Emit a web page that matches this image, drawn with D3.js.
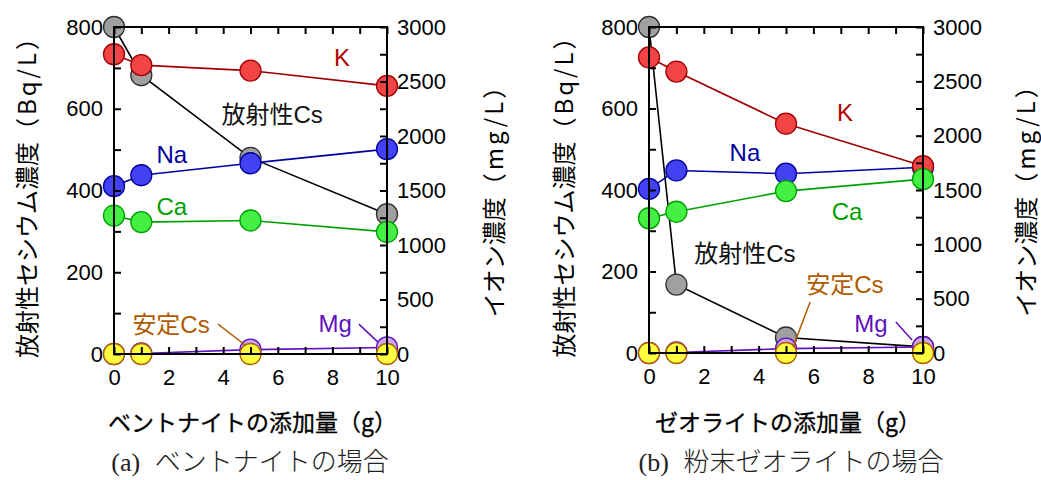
<!DOCTYPE html>
<html>
<head>
<meta charset="utf-8">
<script src="https://cdn.jsdelivr.net/npm/d3@7"></script>
<style>
  html, body { margin: 0; padding: 0; background: #fff; }
  svg { display: block; }
  text { font-family: "Liberation Sans", "Noto Sans CJK JP", sans-serif; }
</style>
</head>
<body>
<svg id="chart" width="1041" height="480"></svg>
<script>
// ---------------- data ----------------
const doses = [0, 1, 5, 10];

// (a) bentonite
const bentRadCs    = [800, 682, 480, 342];     // Bq/L (left axis)
const bentStableCs = [0, 0, 0, 0];             // left axis
const bentK        = [2750, 2650, 2600, 2460]; // mg/L (right axis)
const bentNa       = [1540, 1640, 1750, 1880];
const bentCa       = [1270, 1210, 1225, 1120];
const bentMg       = [0, 5, 40, 60];

// (b) powdered zeolite
const zeoRadCs     = [800, 168, 38, 15];
const zeoStableCs  = [0, 0, 0, 0];
const zeoK         = [2720, 2590, 2110, 1720];
const zeoNa        = [1510, 1680, 1650, 1710];
const zeoCa        = [1240, 1300, 1490, 1600];
const zeoMg        = [0, 5, 40, 55];

const xTicks      = [0, 2, 4, 6, 8, 10];
const xMinorTicks = [1, 3, 5, 7, 9];
const leftTicks   = [0, 200, 400, 600, 800];
const leftMinor   = [100, 300, 500, 700];
const rightTicks  = [0, 500, 1000, 1500, 2000, 2500, 3000];
const rightMinor  = [250, 750, 1250, 1750, 2250, 2750];

const leftTitleMain  = "放射性セシウム濃度";
const leftTitleUnit  = "（Bq/L）";
const rightTitleMain = "イオン濃度";
const rightTitleUnit = "（mg/L）";
const xTitleA = "ベントナイトの添加量";
const xTitleB = "ゼオライトの添加量";
const xTitleUnit = "（g）";
const captionA = ["(a)", "ベントナイトの場合"];
const captionB = ["(b)", "粉末ゼオライトの場合"];

// ---------------- styles ----------------
const styles = {
  radCs:    { fill: "#a0a0a0", stroke: "#303030", line: "#000000" },
  K:        { fill: "#f24444", stroke: "#a00000", line: "#a00000" },
  Na:       { fill: "#4242f2", stroke: "#0000a0", line: "#0000a0" },
  Ca:       { fill: "#44f044", stroke: "#00a000", line: "#00a000" },
  Mg:       { fill: "#c8a6f0", stroke: "#6010c0", line: "#6010c0" },
  stableCs: { fill: "#ffff40", stroke: "#b06000", line: "#b06000" }
};

const panels = [
  {
    x0: 114, x1: 387, y0: 27, y1: 354,
    series: [
      { key: "radCs", vals: bentRadCs, axis: "left" },
      { key: "Na", vals: bentNa, axis: "right" },
      { key: "K", vals: bentK, axis: "right" },
      { key: "Ca", vals: bentCa, axis: "right" },
      { key: "Mg", vals: bentMg, axis: "right" },
      { key: "stableCs", vals: bentStableCs, axis: "left" }
    ],
    labels: [
      { text: "K", x: 8.35, y: 705, color: "#b00000" },
      { text: "放射性Cs", x: 5.79, y: 565, color: "#111" },
      { text: "Na", x: 2.12, y: 467, color: "#0000a0" },
      { text: "Ca", x: 2.12, y: 340, color: "#00a000" },
      { text: "安定Cs", x: 2.09, y: 51, color: "#b05a00" },
      { text: "Mg", x: 8.1, y: 54, color: "#6010c0" }
    ],
    leaders: [
      { x1: 3.81, y1: 73, x2: 4.8, y2: 22, color: "#b05a00" },
      { x1: 8.97, y1: 73, x2: 9.67, y2: 29, color: "#6010c0" }
    ],
    xTitle: xTitleA, caption: captionA, captionX: 250,
    leftTitleX: 25, rightTitleX: 492
  },
  {
    x0: 649, x1: 923, y0: 27, y1: 353,
    series: [
      { key: "radCs", vals: zeoRadCs, axis: "left" },
      { key: "Na", vals: zeoNa, axis: "right" },
      { key: "K", vals: zeoK, axis: "right" },
      { key: "Ca", vals: zeoCa, axis: "right" },
      { key: "Mg", vals: zeoMg, axis: "right" },
      { key: "stableCs", vals: zeoStableCs, axis: "left" }
    ],
    labels: [
      { text: "K", x: 7.15, y: 569, color: "#b00000" },
      { text: "Na", x: 3.5, y: 471, color: "#0000a0" },
      { text: "Ca", x: 7.23, y: 326, color: "#00a000" },
      { text: "放射性Cs", x: 3.5, y: 223, color: "#111" },
      { text: "安定Cs", x: 7.15, y: 147, color: "#b05a00" },
      { text: "Mg", x: 8.1, y: 52, color: "#6010c0" }
    ],
    leaders: [
      { x1: 5.88, y1: 125, x2: 5.26, y2: 15, color: "#b05a00" },
      { x1: 9.01, y1: 76, x2: 9.6, y2: 32, color: "#6010c0" }
    ],
    xTitle: xTitleB, caption: captionB, captionX: 791,
    leftTitleX: 25 + 537, rightTitleX: 1024
  }
];

const svg = d3.select("#chart");
svg.append("rect").attr("width", 1041).attr("height", 480).attr("fill", "#fff");

const FS = 22;
const TICK = 7;

panels.forEach(p => {
  const g = svg.append("g");
  const x = d3.scaleLinear().domain([0, 10]).range([p.x0, p.x1]);
  const yL = d3.scaleLinear().domain([0, 800]).range([p.y1, p.y0]);
  const yR = d3.scaleLinear().domain([0, 3000]).range([p.y1, p.y0]);

  // series
  p.series.forEach(s => {
    const st = styles[s.key];
    const y = s.axis === "left" ? yL : yR;
    const pts = doses.map((d, i) => [d, s.vals[i]]);
    g.append("path")
      .attr("d", d3.line().x(d => x(d[0])).y(d => y(d[1]))(pts))
      .attr("fill", "none").attr("stroke", st.line).attr("stroke-width", 1.6);
    g.selectAll(null).data(pts).enter().append("circle")
      .attr("cx", d => x(d[0])).attr("cy", d => y(d[1])).attr("r", 10.5)
      .attr("fill", st.fill).attr("stroke", st.stroke).attr("stroke-width", 1.3);
  });

  // frame
  g.append("rect")
    .attr("x", p.x0).attr("y", p.y0)
    .attr("width", p.x1 - p.x0).attr("height", p.y1 - p.y0)
    .attr("fill", "none").attr("stroke", "#000").attr("stroke-width", 2);

  function styleAxis(sel) {
    sel.select(".domain").remove();
    sel.selectAll(".tick line").attr("stroke", "#000").attr("stroke-width", 2);
    sel.selectAll(".tick text")
      .attr("fill", "#000")
      .style("font-size", FS + "px")
      .style("font-family", "'Liberation Sans', Arial, sans-serif");
  }

  // bottom axis
  g.append("g").attr("transform", `translate(0,${p.y1})`)
    .call(d3.axisBottom(x).tickValues(xTicks).tickSizeInner(-TICK).tickSizeOuter(0).tickPadding(15).tickFormat(d3.format("d")))
    .call(styleAxis);
  g.append("g").attr("transform", `translate(0,${p.y1})`)
    .call(d3.axisBottom(x).tickValues(xMinorTicks).tickSizeInner(-TICK).tickSizeOuter(0).tickFormat(""))
    .call(styleAxis);
  // top axis ticks
  g.append("g").attr("transform", `translate(0,${p.y0})`)
    .call(d3.axisTop(x).tickValues(xTicks.concat(xMinorTicks)).tickSizeInner(-TICK).tickSizeOuter(0).tickFormat(""))
    .call(styleAxis);
  // left axis
  g.append("g").attr("transform", `translate(${p.x0},0)`)
    .call(d3.axisLeft(yL).tickValues(leftTicks).tickSizeInner(-TICK).tickSizeOuter(0).tickPadding(11).tickFormat(d3.format("d")))
    .call(styleAxis);
  g.append("g").attr("transform", `translate(${p.x0},0)`)
    .call(d3.axisLeft(yL).tickValues(leftMinor).tickSizeInner(-TICK).tickSizeOuter(0).tickFormat(""))
    .call(styleAxis);
  // right axis
  g.append("g").attr("transform", `translate(${p.x1},0)`)
    .call(d3.axisRight(yR).tickValues(rightTicks).tickSizeInner(-TICK).tickSizeOuter(0).tickPadding(10).tickFormat(d3.format("d")))
    .call(styleAxis);
  g.append("g").attr("transform", `translate(${p.x1},0)`)
    .call(d3.axisRight(yR).tickValues(rightMinor).tickSizeInner(-TICK).tickSizeOuter(0).tickFormat(""))
    .call(styleAxis);

  // labels
  p.labels.forEach(l => {
    g.append("text")
      .attr("x", x(l.x)).attr("y", yL(l.y))
      .attr("text-anchor", "middle")
      .attr("fill", l.color)
      .style("font-size", "24px")
      .text(l.text);
  });
  p.leaders.forEach(l => {
    g.append("line")
      .attr("x1", x(l.x1)).attr("y1", yL(l.y1))
      .attr("x2", x(l.x2)).attr("y2", yL(l.y2))
      .attr("stroke", l.color).attr("stroke-width", 1.5);
  });

  const yMid = (p.y0 + p.y1) / 2;
  // left y title
  const lt = g.append("text")
    .attr("transform", `translate(${p.leftTitleX},${yMid}) rotate(-90)`)
    .attr("text-anchor", "middle").attr("dominant-baseline", "central")
    .attr("fill", "#000")
    .style("font-size", "24px")
    .style("font-family", "'Noto Sans CJK JP', sans-serif");
  lt.append("tspan").text(leftTitleMain);
  lt.append("tspan").style("letter-spacing", "3px").text(leftTitleUnit);

  // right y title
  const rt = g.append("text")
    .attr("transform", `translate(${p.rightTitleX},${yMid + 4}) rotate(-90)`)
    .attr("text-anchor", "middle").attr("dominant-baseline", "central")
    .attr("fill", "#000")
    .style("font-size", "24px")
    .style("font-family", "'Noto Sans CJK JP', sans-serif");
  rt.append("tspan").text(rightTitleMain);
  rt.append("tspan").style("letter-spacing", "3px").text(rightTitleUnit);

  // x title
  const xt = g.append("text")
    .attr("x", (p.x0 + p.x1) / 2 + 2).attr("y", 431)
    .attr("text-anchor", "middle")
    .attr("fill", "#000")
    .attr("stroke", "#000").attr("stroke-width", 0.3)
    .style("font-size", "23px")
    .style("font-family", "'Noto Sans CJK JP', sans-serif");
  xt.append("tspan").text(p.xTitle);
  xt.append("tspan").text(xTitleUnit);

  // caption
  const ct = g.append("text")
    .attr("x", p.captionX).attr("y", 471)
    .attr("text-anchor", "middle")
    .attr("fill", "#222");
  ct.append("tspan")
    .style("font-family", "'Liberation Serif', serif")
    .style("font-size", "26px")
    .text(p.caption[0] + " ");
  ct.append("tspan")
    .attr("dx", 8)
    .style("font-family", "'Noto Sans CJK JP', sans-serif")
    .style("font-weight", "300")
    .style("font-size", "26px")
    .text(p.caption[1]);
});
</script>
</body>
</html>
